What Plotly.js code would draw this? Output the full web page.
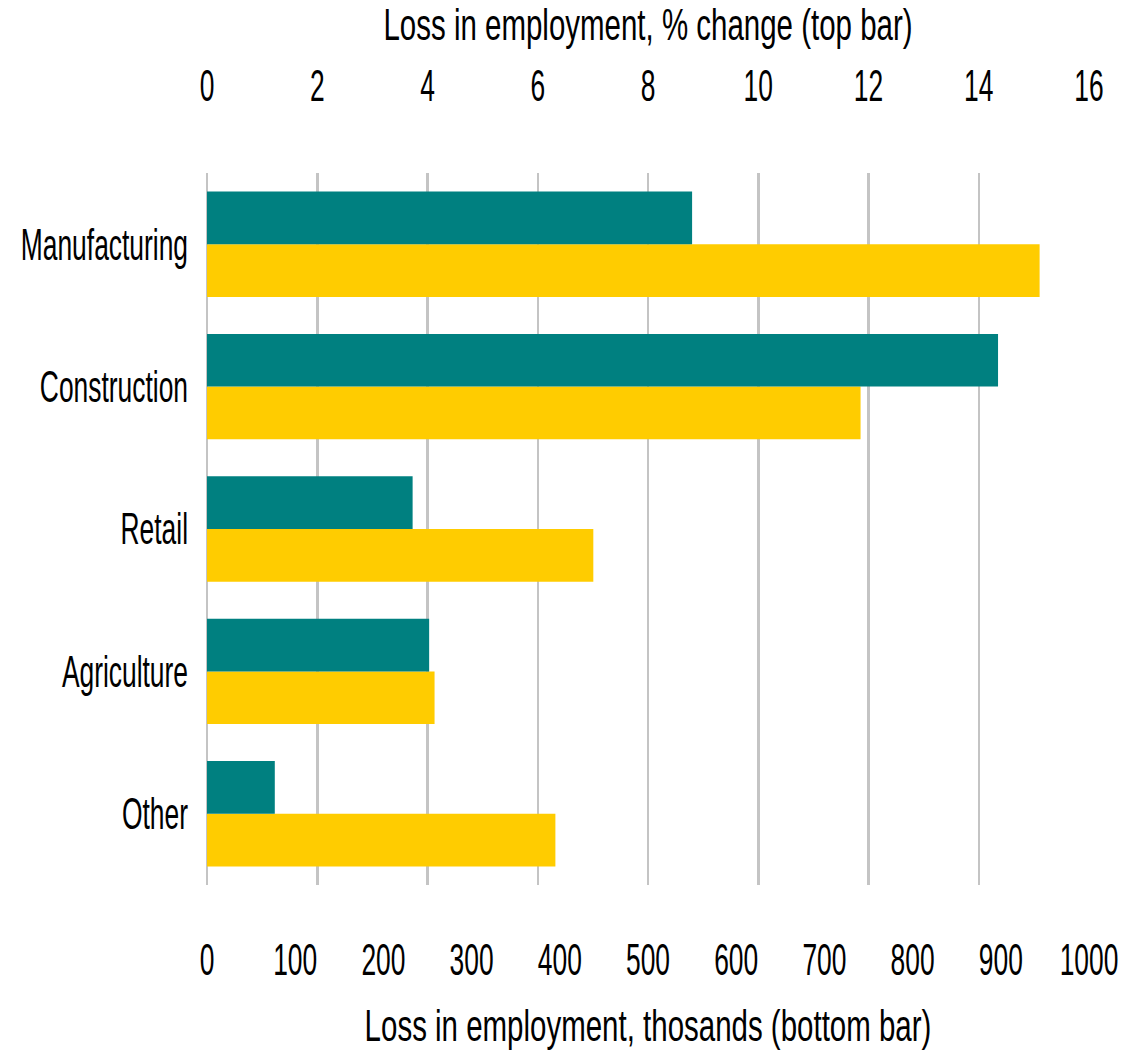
<!DOCTYPE html>
<html>
<head>
<meta charset="utf-8">
<script src="https://cdn.plot.ly/plotly-3.0.1.min.js"></script>
<style>html,body{margin:0;padding:0;background:#fff;}#chart{width:1124px;height:1050px;}</style>
</head>
<body>
<div id="chart"></div>
<script>
const categories = ["Manufacturing", "Construction", "Retail", "Agriculture", "Other"];
const pctChange = [8.8, 14.35, 3.73, 4.03, 1.23];
const thousands = [944, 741, 438, 258, 395];
const topTicks = [0, 2, 4, 6, 8, 10, 12, 14, 16];
const bottomTicks = [0, 100, 200, 300, 400, 500, 600, 700, 800, 900, 1000];

const FONT = "'Liberation Sans', Arial, sans-serif";
const FS = 44;
const SQUEEZE_TICKS = 0.6;   // horizontal condensing to mimic a condensed face
const SQUEEZE_TITLES = 0.67;

const traces = [
  {
    type: "bar", orientation: "h", name: "% change",
    y: categories, x: pctChange, xaxis: "x2", yaxis: "y",
    width: 0.37, offset: -0.37,
    marker: {color: "#008080"}, hoverinfo: "x+y"
  },
  {
    type: "bar", orientation: "h", name: "thousands",
    y: categories, x: thousands, xaxis: "x", yaxis: "y",
    width: 0.37, offset: 0,
    marker: {color: "#FFCC00"}, hoverinfo: "x+y"
  }
];

const tf = {family: FONT, size: FS, color: "#000"};

const layout = {
  width: 1124, height: 1050,
  margin: {l: 207, r: 35, t: 173, b: 165},
  paper_bgcolor: "#fff", plot_bgcolor: "#fff",
  showlegend: false,
  font: tf,
  yaxis: {
    type: "category", autorange: false, range: [4.5, -0.5],
    showgrid: false, zeroline: false, showline: false,
    ticks: "", ticklabelstandoff: 18, ticklabeloverflow: "allow",
    tickfont: tf
  },
  xaxis: {
    side: "bottom", range: [0, 1000], autorange: false,
    tickvals: bottomTicks, ticktext: bottomTicks.map(String), tickangle: 0,
    showgrid: false, zeroline: false, showline: false, ticks: "",
    ticklabelstandoff: 45, ticklabeloverflow: "allow",
    tickfont: tf,
    title: {text: "Loss in employment, thosands (bottom bar)", standoff: 28, font: tf}
  },
  xaxis2: {
    side: "top", overlaying: "x", range: [0, 16], autorange: false,
    tickvals: topTicks, ticktext: topTicks.map(String), tickangle: 0,
    showgrid: true, gridcolor: "#c4c4c4", gridwidth: 2.5,
    zeroline: true, zerolinecolor: "#c4c4c4", zerolinewidth: 2.5,
    showline: false, ticks: "",
    ticklabelstandoff: 62, ticklabeloverflow: "allow",
    tickfont: tf,
    title: {text: "Loss in employment, % change (top bar)", standoff: 6, font: tf}
  }
};

function squeeze(nodes, s) {
  nodes.forEach(function (t) {
    const ax = parseFloat(t.getAttribute("x")) || 0;
    const prev = t.getAttribute("transform") || "";
    t.setAttribute("transform", prev + " translate(" + ax + ",0) scale(" + s + ",1) translate(" + (-ax) + ",0)");
  });
}

function condense(gd) {
  squeeze(gd.querySelectorAll(".xtick text, .x2tick text, .ytick text"), SQUEEZE_TICKS);
  squeeze(gd.querySelectorAll(".g-xtitle text, .g-x2title text"), SQUEEZE_TITLES);
}

Plotly.newPlot("chart", traces, layout, {displayModeBar: false, staticPlot: true}).then(condense);
</script>
</body>
</html>
